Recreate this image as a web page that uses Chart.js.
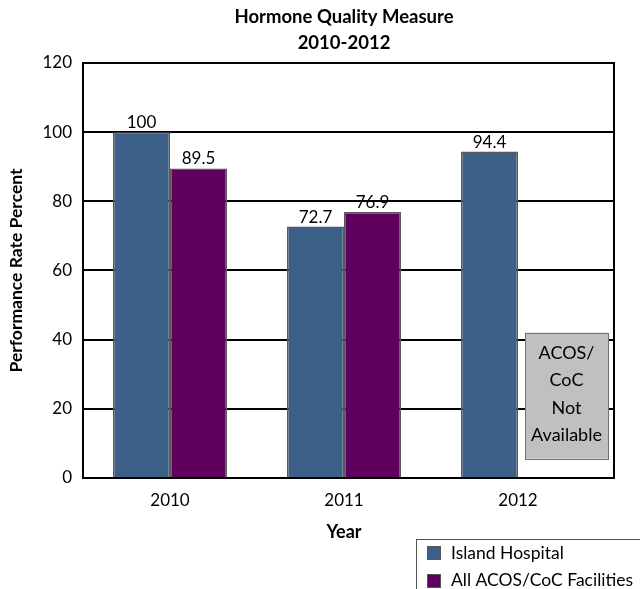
<!DOCTYPE html>
<html>
<head>
<meta charset="utf-8">
<script src="https://cdn.jsdelivr.net/npm/chart.js@4"></script>
<style>
  html, body { margin: 0; padding: 0; background: #fff; }
</style>
</head>
<body>
<canvas id="chart" width="640" height="589"></canvas>
<script>
// data
const years = ['2010', '2011', '2012'];
const islandHospital = [100, 72.7, 94.4];
const allFacilities = [89.5, 76.9, null];
const yTicks = [0, 20, 40, 60, 80, 100, 120];
const noteLines = ['ACOS/', 'CoC', 'Not', 'Available'];

const BLUE = '#3d6089';
const PURPLE = '#5f005f';
const FRAME_EXTRA = 9; // plot frame runs a bit past the last category

Chart.defaults.font.family = 'Lato';

// grid lines and black frame round the plot
const frameGrid = {
    id: 'frameGrid',
    beforeDatasetsDraw(chart) {
        const {ctx, chartArea: a, scales: {y}} = chart;
        ctx.save();
        ctx.strokeStyle = '#000';
        ctx.lineWidth = 2;
        yTicks.forEach(v => {
            if (v === y.min || v === y.max) return;
            const py = Math.round(y.getPixelForValue(v));
            ctx.beginPath();
            ctx.moveTo(a.left, py);
            ctx.lineTo(a.right + FRAME_EXTRA, py);
            ctx.stroke();
        });
        ctx.restore();
    },
    afterDatasetsDraw(chart) {
        const {ctx, chartArea: a} = chart;
        ctx.save();
        ctx.strokeStyle = '#000';
        ctx.lineWidth = 2;
        ctx.strokeRect(Math.round(a.left), Math.round(a.top),
            Math.round(a.right + FRAME_EXTRA - a.left), Math.round(a.bottom - a.top));
        ctx.restore();
    }
};

// gray "not available" box next to the 2012 bar
const noteBox = {
    id: 'noteBox',
    afterDatasetsDraw(chart) {
        const {ctx, scales: {x, y}} = chart;
        const left = x.getPixelForValue(2) + 7;
        const w = 83;
        const top = y.getPixelForValue(42);
        const bottom = y.getPixelForValue(5.6);
        ctx.save();
        ctx.fillStyle = '#c0c0c0';
        ctx.fillRect(left, top, w, bottom - top);
        ctx.strokeStyle = '#707070';
        ctx.lineWidth = 1;
        ctx.strokeRect(Math.round(left) + 0.5, Math.round(top) + 0.5, w, Math.round(bottom - top));
        ctx.fillStyle = '#000';
        ctx.font = '18px Lato';
        ctx.textAlign = 'center';
        ctx.textBaseline = 'middle';
        const step = (bottom - top) / (noteLines.length + 0.6);
        noteLines.forEach((t, i) => {
            ctx.fillText(t, left + w / 2, top + step * (i + 0.75));
        });
        ctx.restore();
    }
};

// values above the bars
const valueLabels = {
    id: 'valueLabels',
    afterDatasetsDraw(chart) {
        const {ctx} = chart;
        ctx.save();
        ctx.font = '17px Lato';
        ctx.fillStyle = '#000';
        ctx.textAlign = 'center';
        ctx.textBaseline = 'bottom';
        chart.data.datasets.forEach((ds, i) => {
            chart.getDatasetMeta(i).data.forEach((bar, j) => {
                if (ds.data[j] == null) return;
                ctx.fillText(String(ds.data[j]), bar.x, bar.y - 1);
            });
        });
        ctx.restore();
    }
};

// legend box in the bottom right corner, cut by the edge
const legendBox = {
    id: 'legendBox',
    afterDraw(chart) {
        const {ctx, width, chartArea: a} = chart;
        const left = width - 224;
        const top = a.bottom + 61;
        ctx.save();
        ctx.strokeStyle = '#555';
        ctx.lineWidth = 1;
        ctx.strokeRect(left + 0.5, top + 0.5, 300, 100);
        ctx.font = '17.5px Lato';
        ctx.textBaseline = 'middle';
        ctx.textAlign = 'left';
        chart.data.datasets.forEach((ds, i) => {
            const cy = top + 14 + i * 27.5;
            ctx.fillStyle = ds.backgroundColor;
            ctx.fillRect(left + 11, Math.round(cy - 7), 14, 14);
            ctx.strokeStyle = '#555';
            ctx.strokeRect(left + 11.5, Math.round(cy - 7) + 0.5, 13, 13);
            ctx.fillStyle = '#000';
            ctx.fillText(ds.label, left + 35, cy);
        });
        ctx.restore();
    }
};

new Chart(document.getElementById('chart'), {
    type: 'bar',
    data: {
        labels: years,
        datasets: [{
            label: 'Island Hospital',
            data: islandHospital,
            backgroundColor: BLUE,
            borderColor: '#5a5a5a',
            borderWidth: 1.5,
            categoryPercentage: 0.655,
            barPercentage: 1
        }, {
            label: 'All ACOS/CoC Facilities',
            data: allFacilities,
            backgroundColor: PURPLE,
            borderColor: '#5a5a5a',
            borderWidth: 1.5,
            categoryPercentage: 0.655,
            barPercentage: 1
        }]
    },
    options: {
        responsive: false,
        animation: false,
        layout: {padding: {right: 35}},
        plugins: {
            legend: {display: false},
            tooltip: {enabled: false},
            title: {
                display: true,
                fullSize: false,
                text: ['Hormone Quality Measure', '2010-2012'],
                color: '#000',
                font: {size: 18.5, weight: 'bold', lineHeight: 1.405},
                padding: {top: 4, bottom: 7}
            }
        },
        scales: {
            x: {
                grid: {display: false, drawTicks: false},
                border: {display: false},
                ticks: {color: '#000', font: {size: 17}, padding: 12},
                title: {
                    display: true,
                    text: 'Year',
                    color: '#000',
                    font: {size: 18, weight: 'bold'},
                    padding: {top: 0, bottom: 46}
                },
                afterFit: s => { s.height = 111; }
            },
            y: {
                min: 0,
                max: 120,
                ticks: {stepSize: 20, color: '#000', font: {size: 17}, padding: 11},
                grid: {display: false, drawTicks: false},
                border: {display: false},
                title: {
                    display: true,
                    text: 'Performance Rate Percent',
                    color: '#000',
                    font: {size: 17.5, weight: 'bold'},
                    padding: {top: 6, bottom: 0}
                },
                afterFit: s => { s.width = 83; }
            }
        }
    },
    plugins: [frameGrid, noteBox, valueLabels, legendBox]
});
</script>
</body>
</html>
